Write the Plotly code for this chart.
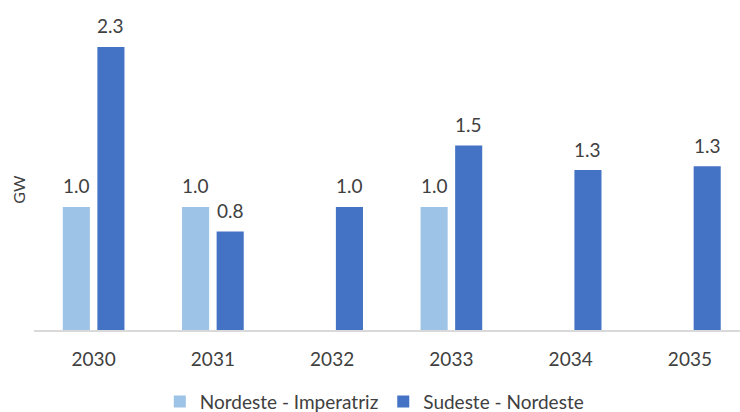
import plotly.graph_objects as go

years = ["2030", "2031", "2032", "2033", "2034", "2035"]
nordeste_imperatriz = [1.0, 1.0, None, 1.0, None, None]
sudeste_nordeste = [2.3, 0.8, 1.0, 1.5, 1.3, 1.33]

series_names = ["Nordeste - Imperatriz", "Sudeste - Nordeste"]
series_colors = ["#9DC3E6", "#4472C4"]

FONT = "Lato"
TEXT_COLOR = "#404040"
LABEL_SIZE = 19

fig = go.Figure()
series = [nordeste_imperatriz, sudeste_nordeste]
for name, vals, color in zip(series_names, series, series_colors):
    fig.add_trace(go.Bar(
        x=years, y=vals, name=name,
        marker=dict(color=color, line=dict(width=0)),
    ))

# value labels above each bar, offset to the bar's slot inside the group
slot_shift = [-17.25, 17.25]
for vals, dx in zip(series, slot_shift):
    for i, v in enumerate(vals):
        if v is None:
            continue
        fig.add_annotation(
            x=i, y=v, text=f"{v:.1f}", showarrow=False,
            xshift=dx, yshift=21, xanchor="center", yanchor="middle",
            font=dict(family=FONT, size=LABEL_SIZE, color=TEXT_COLOR),
        )

fig.add_annotation(
    text="GW", xref="paper", yref="paper", x=-0.022, y=0.44,
    textangle=-90, showarrow=False,
    font=dict(family=FONT, size=16, color=TEXT_COLOR),
    xanchor="center", yanchor="middle",
)

fig.update_layout(
    width=740, height=412,
    margin=dict(l=34, r=0, t=10, b=82),
    paper_bgcolor="white", plot_bgcolor="white",
    barmode="group", bargap=0.42, bargroupgap=0.217,
    font=dict(family=FONT, size=LABEL_SIZE, color=TEXT_COLOR),
    showlegend=True,
    legend=dict(
        orientation="h", x=0.482, xanchor="center",
        yref="container", y=0.025, yanchor="middle",
        font=dict(family=FONT, size=LABEL_SIZE, color=TEXT_COLOR),
        itemwidth=30, traceorder="normal",
    ),
    xaxis=dict(
        type="category", range=[-0.5, 5.42],
        showline=True, linecolor="#d9d9d9", linewidth=2,
        ticks="", showgrid=False, ticklabelstandoff=11,
        tickfont=dict(family=FONT, size=LABEL_SIZE, color=TEXT_COLOR),
    ),
    yaxis=dict(
        range=[0, 2.6], showgrid=False, zeroline=False,
        showticklabels=False, ticks="", showline=False,
    ),
)

fig.write_html("out.html")
